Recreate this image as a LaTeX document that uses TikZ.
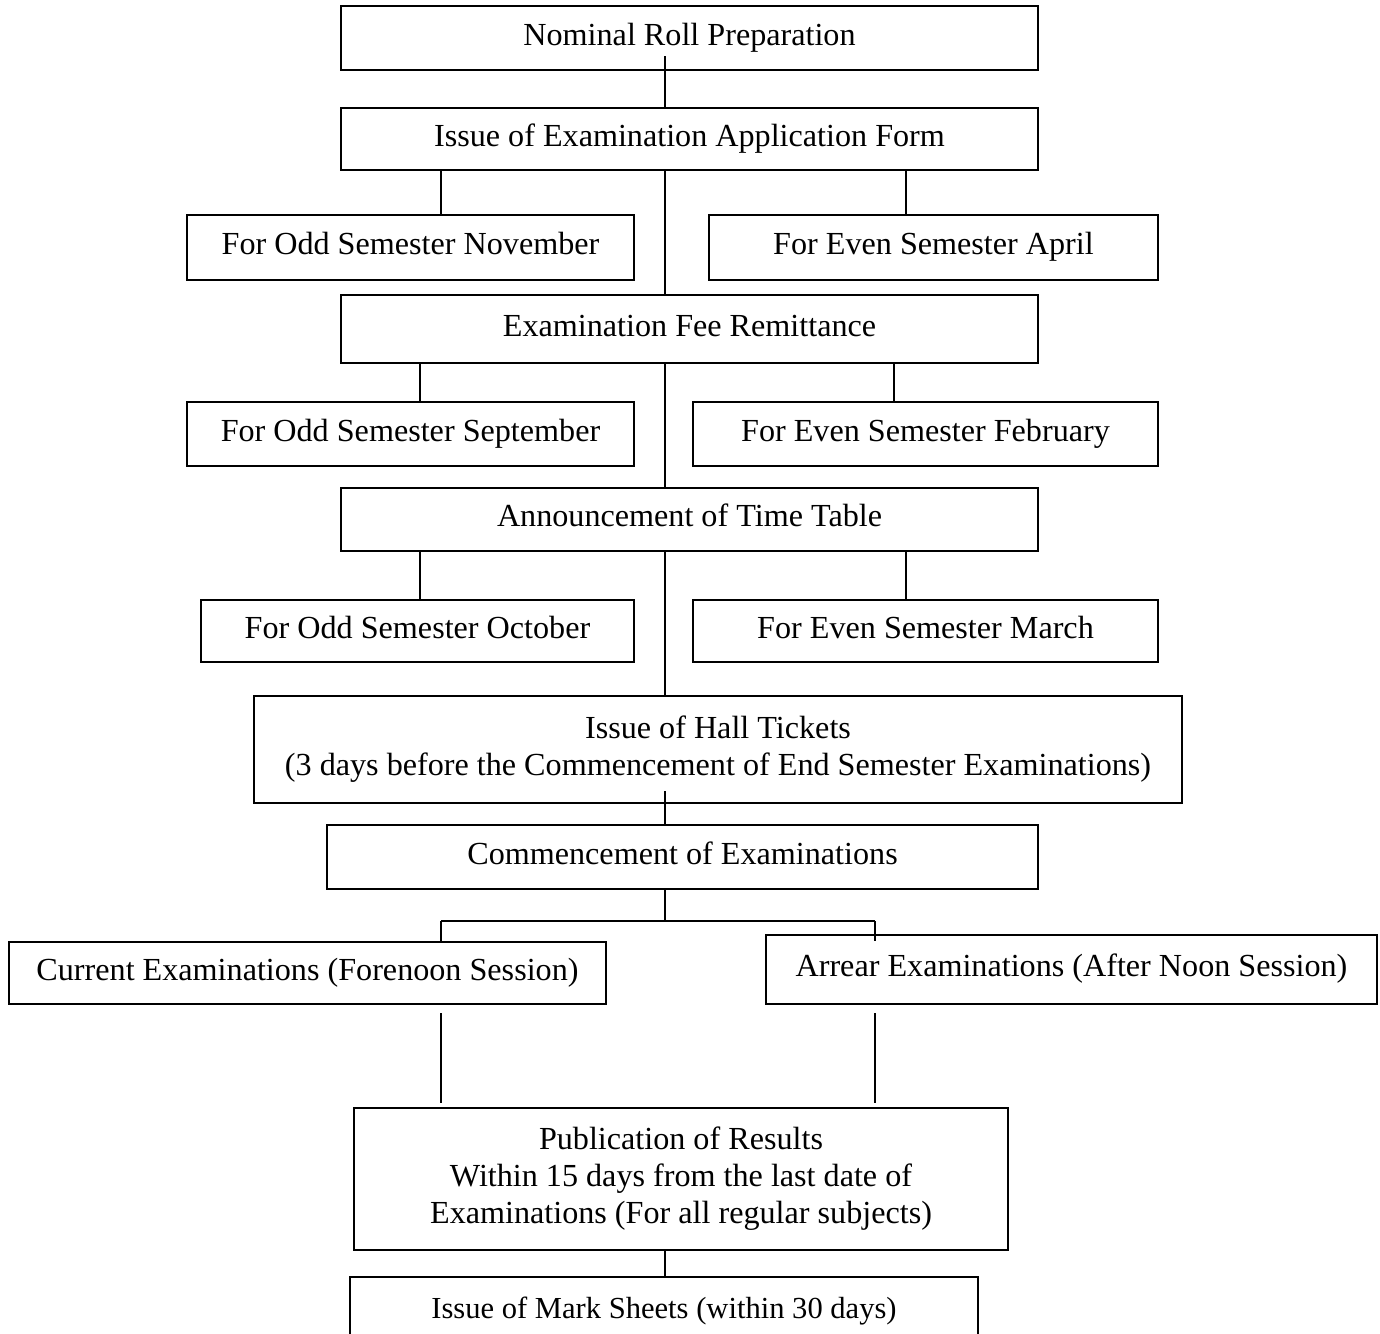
\documentclass[tikz,border=0pt]{standalone}
\usepackage{fontspec}
\setmainfont{Liberation Serif}
\usetikzlibrary{positioning,calc}
\tikzset{
  box/.style={rectangle, draw=black, line width=1.2pt, inner sep=2pt, align=center,
    font=\fontsize{18.3pt}{21pt}\selectfont},
  oneline/.style={text height=13pt, text depth=5pt},
  connect/.style={line width=0.8pt}
}

\begin{document}
\begin{tikzpicture}[x=0.02cm, y=-0.02cm]
    \useasboundingbox (0,0) rectangle (1380,1333);
    \clip (0,0) rectangle (1380,1333);

    % columns of the connectors
    \coordinate (spine) at (665,0);
    \coordinate (cA) at (441,0);
    \coordinate (cB) at (906,0);
    \coordinate (cC) at (420,0);
    \coordinate (cD) at (894,0);
    \coordinate (cE) at (875,0);

    \node[box, oneline, minimum width=13.94cm, minimum height=1.28cm] (Nominal) at (689.5,38) {Nominal Roll Preparation};
    \node[box, oneline, minimum width=13.94cm, minimum height=1.24cm] (Apply) at (689.5,139) {Issue of Examination Application Form};
    \node[box, oneline, minimum width=8.94cm, minimum height=1.3cm] (OddNov) at (410.5,247.5) {For Odd Semester November};
    \node[box, oneline, minimum width=8.98cm, minimum height=1.3cm] (EvenApr) at (933.5,247.5) {For Even Semester April};
    \node[box, oneline, minimum width=13.94cm, minimum height=1.36cm] (Fee) at (689.5,329) {Examination Fee Remittance};
    \node[box, oneline, minimum width=8.94cm, minimum height=1.28cm] (OddSep) at (410.5,434) {For Odd Semester September};
    \node[box, oneline, minimum width=9.3cm, minimum height=1.28cm] (EvenFeb) at (925.5,434) {For Even Semester February};
    \node[box, oneline, minimum width=13.94cm, minimum height=1.26cm] (Table) at (689.5,519.5) {Announcement of Time Table};
    \node[box, oneline, minimum width=8.66cm, minimum height=1.24cm] (OddOct) at (417.5,631) {For Odd Semester October};
    \node[box, oneline, minimum width=9.3cm, minimum height=1.24cm] (EvenMar) at (925.5,631) {For Even Semester March};
    \node[box, minimum width=18.56cm, minimum height=2.14cm] (Hall) at (718,749.5)
        {Issue of Hall Tickets\\(3 days before the Commencement of End Semester Examinations)};
    \node[box, oneline, minimum width=14.22cm, minimum height=1.28cm] (Begin) at (682.5,857) {Commencement of Examinations};
    \node[box, oneline, minimum width=11.94cm, minimum height=1.24cm] (Current) at (307.5,973) {Current Examinations (Forenoon Session)};
    \node[box, oneline, minimum width=12.22cm, minimum height=1.38cm] (Arrear) at (1071.5,969.5) {Arrear Examinations (After Noon Session)};
    \node[box, minimum width=13.08cm, minimum height=2.84cm] (Results) at (681,1179)
        {Publication of Results\\Within 15 days from the last date of\\Examinations (For all regular subjects)};
    \node[box, oneline, minimum width=12.56cm, minimum height=1.36cm, font=\fontsize{17.4pt}{20pt}\selectfont] (Marks) at (664,1311)
        {Issue of Mark Sheets (within 30 days)};

    % main line
    \draw[connect] ([yshift=0.3cm]Nominal.south -| spine) -- (Apply.north -| spine);
    \draw[connect] (Apply.south -| spine) -- (Fee.north -| spine);
    \draw[connect] (Fee.south -| spine) -- (Table.north -| spine);
    \draw[connect] (Table.south -| spine) -- (Hall.north -| spine);
    \draw[connect] ([yshift=0.26cm]Hall.south -| spine) -- (Begin.north -| spine);
    \draw[connect] (Results.south -| spine) -- (Marks.north -| spine);

    % side branches
    \draw[connect] (Apply.south -| cA) -- (OddNov.north -| cA);
    \draw[connect] (Apply.south -| cB) -- (EvenApr.north -| cB);
    \draw[connect] (Fee.south -| cC) -- (OddSep.north -| cC);
    \draw[connect] (Fee.south -| cD) -- (EvenFeb.north -| cD);
    \draw[connect] (Table.south -| cC) -- (OddOct.north -| cC);
    \draw[connect] (Table.south -| cB) -- (EvenMar.north -| cB);

    % sessions
    \draw[connect] (Begin.south -| spine) -- ++(0,31) coordinate (fork);
    \draw[connect] (fork -| cA) -- (fork -| cE);
    \draw[connect] (fork -| cA) -- (Current.north -| cA);
    \draw[connect] (fork -| cE) -- ([yshift=-0.14cm]Arrear.north -| cE);
    \draw[connect] ([yshift=-0.16cm]Current.south -| cA) -- ([yshift=0.08cm]Results.north -| cA);
    \draw[connect] ([yshift=-0.16cm]Arrear.south -| cE) -- ([yshift=0.08cm]Results.north -| cE);
\end{tikzpicture}
\end{document}
